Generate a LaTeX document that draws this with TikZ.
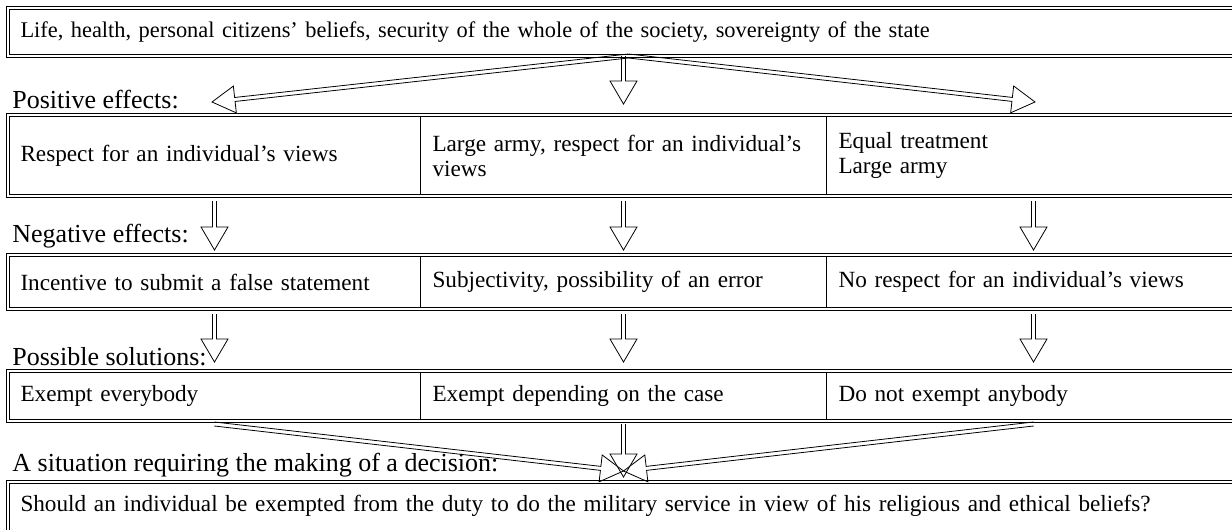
\documentclass[tikz,border=0pt]{standalone}
\usepackage{fontspec}
\setmainfont{Liberation Serif}
\usepackage{tikz}
\usetikzlibrary{calc}

\tikzset{
  cell/.style={draw, line width=0.5pt, anchor=north west, inner xsep=6pt, inner ysep=0pt,
    align=left, font=\fontsize{11.6}{12.5}\selectfont},
  lbl/.style={anchor=west, inner sep=0pt, font=\fontsize{13}{15}\selectfont},
  rowframe/.style={draw, double, double distance=1pt, line width=0.45pt},
  arrowline/.style={line width=0.4pt, line join=miter}
}

\newcommand{\hollowarrow}[2]{%
  \coordinate (ha) at (#1); \coordinate (hb) at (#2);
  \coordinate (hc) at ($(hb)!11.5pt!(ha)$);
  \draw[arrowline] ($(ha)!1pt!90:(hb)$) -- ($(hc)!1pt!90:(hb)$) -- ($(hc)!6.75pt!90:(hb)$)
    -- (hb) -- ($(hc)!6.75pt!-90:(hb)$) -- ($(hc)!1pt!-90:(hb)$) -- ($(ha)!1pt!-90:(hb)$);
}

\hyphenpenalty=10000

\begin{document}
\begin{tikzpicture}[x=0.5pt, y=-0.5pt]
      \useasboundingbox (0,0) rectangle (1232,530);

      \node[cell, text width=608pt, minimum height=23.5pt, font=\fontsize{11.2}{12.5}\selectfont] (life) at (8,8)
        {Life, health, personal citizens' beliefs, security of the whole of the society, sovereignty of the state};

      \node[lbl] (poslbl) at (12,100) {Positive effects:};
      \node[cell, text width=194pt, minimum height=40pt] (pos1) at (8,115) {Respect for an individual's views};
      \node[cell, text width=191pt, minimum height=40pt] (pos2) at (420,115) {Large army, respect for an individual's\\views};
      \node[cell, text width=195pt, minimum height=40pt] (pos3) at (826,115) {Equal treatment\\Large army};

      \node[lbl] (neglbl) at (12,236) {Negative effects:};
      \node[cell, text width=194pt, minimum height=26.5pt] (neg1) at (8,255) {Incentive to submit a false statement};
      \node[cell, text width=191pt, minimum height=26.5pt] (neg2) at (420,255) {Subjectivity, possibility of an error};
      \node[cell, text width=195pt, minimum height=26.5pt] (neg3) at (826,255) {No respect for an individual's views};

      \node[lbl] (sollbl) at (12,357) {Possible solutions:};
      \node[cell, text width=194pt, minimum height=24.5pt] (sol1) at (8,371) {Exempt everybody};
      \node[cell, text width=191pt, minimum height=24.5pt] (sol2) at (420,371) {Exempt depending on the case};
      \node[cell, text width=195pt, minimum height=24.5pt] (sol3) at (826,371) {Do not exempt anybody};

      \node[lbl] (sitlbl) at (12,465) {A situation requiring the making of a decision:};
      \node[cell, text width=608pt, minimum height=25pt, anchor=west] (sit) at (8,506)
        {Should an individual be exempted from the duty to do the military service in view of his religious and ethical beliefs?};

      \draw[rowframe] (life.north west) rectangle (life.south east);
      \draw[rowframe] (pos1.north west) rectangle (pos3.south east);
      \draw[rowframe] (neg1.north west) rectangle (neg3.south east);
      \draw[rowframe] (sol1.north west) rectangle (sol3.south east);
      \draw[rowframe] (8,482) rectangle (1248,560);

      \coordinate (posL) at (212,102); \coordinate (posR) at (1035,102);
      \coordinate (meet) at ($(sol2.south)+(0,50)$);

      \hollowarrow{life.south}{posL} \hollowarrow{life.south}{posR}
      \hollowarrow{life.south -| pos2.north}{$(pos2.north)+(0,-11)$}

      \hollowarrow{$(pos1.south)+(0,5)$}{$(neg1.north)+(0,-5)$}
      \hollowarrow{$(pos2.south)+(0,5)$}{$(neg2.north)+(0,-5)$}
      \hollowarrow{$(pos3.south)+(0,5)$}{$(neg3.north)+(0,-5)$}

      \hollowarrow{$(neg1.south)+(0,5)$}{$(sol1.north)+(0,-9)$}
      \hollowarrow{$(neg2.south)+(0,5)$}{$(sol2.north)+(0,-9)$}
      \hollowarrow{$(neg3.south)+(0,5)$}{$(sol3.north)+(0,-9)$}

      \hollowarrow{$(sol1.south)+(0,3)$}{meet} \hollowarrow{$(sol3.south)+(0,3)$}{meet}
      \hollowarrow{$(sol2.south)+(0,3)$}{$(meet)+(0,6)$}
\end{tikzpicture}
\end{document}
